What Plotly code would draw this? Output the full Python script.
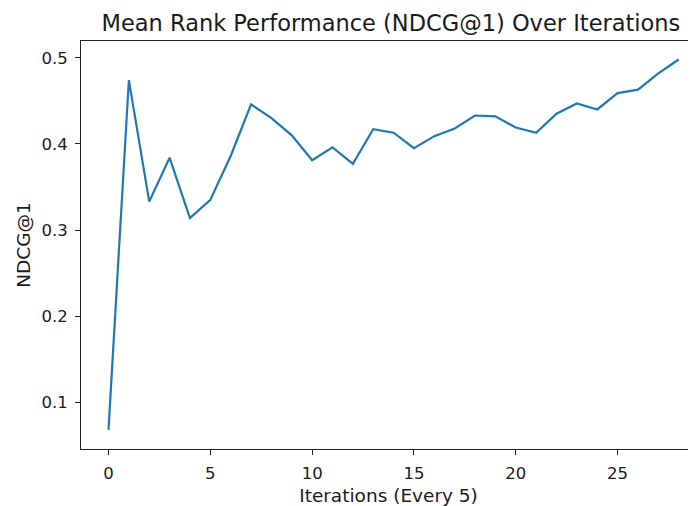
import plotly.graph_objects as go

iterations = list(range(29))
ndcg_at_1 = [0.068, 0.474, 0.333, 0.384, 0.314, 0.335, 0.386, 0.446, 0.430, 0.410,
             0.381, 0.396, 0.377, 0.417, 0.413, 0.395, 0.409, 0.418, 0.433, 0.432,
             0.419, 0.413, 0.435, 0.447, 0.440, 0.459, 0.463, 0.482, 0.498]
x_ticks = [0, 5, 10, 15, 20, 25]
y_ticks = [0.1, 0.2, 0.3, 0.4, 0.5]

FONT = "DejaVu Sans"
TXT = "#1a1a1a"

# the page body adds an 8px offset, so the figure is 688x498
fig = go.Figure()
fig.add_trace(go.Scatter(x=iterations, y=ndcg_at_1, mode="lines",
                         line=dict(color="#1f77b4", width=2.2)))

fig.update_layout(
    width=688, height=498,
    margin=dict(l=73, r=0, t=33, b=57),
    paper_bgcolor="white", plot_bgcolor="white",
    showlegend=False,
    font=dict(family=FONT, size=16.5, color=TXT),
    title=dict(text="Mean Rank Performance (NDCG@1) Over Iterations",
               xref="paper", x=0.504, xanchor="center",
               yref="container", y=1 - 15 / 498, yanchor="middle",
               font=dict(family=FONT, size=22.5, color=TXT)),
    xaxis=dict(range=[-1.35, 28.85], tickvals=x_ticks, ticktext=[str(v) for v in x_ticks],
               showgrid=False, zeroline=False, showline=True, linecolor="#222", linewidth=1,
               mirror=True, ticks="outside", ticklen=5, tickwidth=1, tickcolor="#222",
               ticklabelstandoff=4,
               tickfont=dict(family=FONT, size=16.5, color=TXT),
               title=dict(text="Iterations (Every 5)", standoff=10,
                          font=dict(family=FONT, size=18.5, color=TXT))),
    yaxis=dict(range=[0.0458, 0.5195], tickvals=y_ticks, ticktext=[f"{v:.1f}" for v in y_ticks],
               showgrid=False, zeroline=False, showline=True, linecolor="#222", linewidth=1,
               ticks="outside", ticklen=5, tickwidth=1, tickcolor="#222",
               ticklabelstandoff=4,
               tickfont=dict(family=FONT, size=16.5, color=TXT),
               title=dict(text="NDCG@1", standoff=5,
                          font=dict(family=FONT, size=18.5, color=TXT))),
)

fig.write_html("out.html")
